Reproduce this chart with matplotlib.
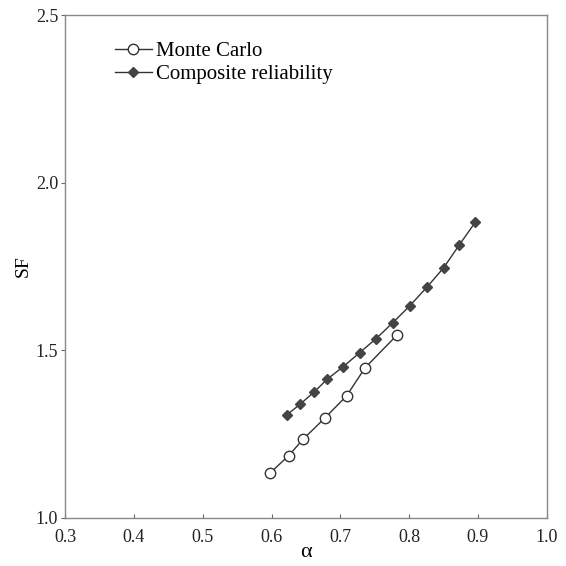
import matplotlib
matplotlib.use("Agg")
import matplotlib.pyplot as plt

plt.rcParams['font.family'] = ['Liberation Serif', 'DejaVu Serif']

# Monte Carlo estimates
mc_alpha = [0.598, 0.625, 0.646, 0.677, 0.709, 0.736, 0.783]
mc_sf = [1.134, 1.186, 1.235, 1.297, 1.364, 1.448, 1.547]

# Composite reliability estimates
cr_alpha = [0.622, 0.642, 0.662, 0.681, 0.704, 0.728, 0.752, 0.776, 0.801,
            0.826, 0.850, 0.873, 0.896]
cr_sf = [1.307, 1.340, 1.376, 1.414, 1.451, 1.493, 1.535, 1.582, 1.633,
         1.689, 1.746, 1.815, 1.882]

x_ticks = [0.3, 0.4, 0.5, 0.6, 0.7, 0.8, 0.9, 1.0]
y_ticks = [1.0, 1.5, 2.0, 2.5]

fig = plt.figure(figsize=(5.66, 5.66), dpi=100)
ax = fig.add_axes([0.115, 0.085, 0.851, 0.888])

ax.plot(mc_alpha, mc_sf, '-', color='#333333', lw=1.0, marker='o',
        markersize=7.5, markerfacecolor='white', markeredgecolor='#333333',
        markeredgewidth=1.0, label='Monte Carlo')
ax.plot(cr_alpha, cr_sf, '-', color='#333333', lw=1.0, marker='D',
        markersize=5.5, markerfacecolor='#444444', markeredgecolor='#444444',
        label='Composite reliability')

ax.set_xlim(0.3, 1.0)
ax.set_ylim(1.0, 2.5)
ax.set_xticks(x_ticks)
ax.set_yticks(y_ticks)
ax.set_xticklabels([f"{v:.1f}" for v in x_ticks], fontsize=13, color='#222222')
ax.set_yticklabels([f"{v:.1f}" for v in y_ticks], fontsize=13, color='#222222')
ax.tick_params(axis='x', direction='in', length=3, color='#666666', pad=8)
ax.tick_params(axis='y', direction='out', length=3, color='#666666', pad=2)

for s in ax.spines.values():
    s.set_color('#888888')
    s.set_linewidth(1.0)

ax.set_xlabel('α', fontsize=16, labelpad=-2)
ax.set_ylabel('SF', fontsize=14, labelpad=3)

ax.legend(loc='upper left', bbox_to_anchor=(0.064, 0.985), frameon=False,
          fontsize=15, handlelength=1.8, handletextpad=0.2, labelspacing=0.15)

fig.savefig('out.png', dpi=100, facecolor='white')
